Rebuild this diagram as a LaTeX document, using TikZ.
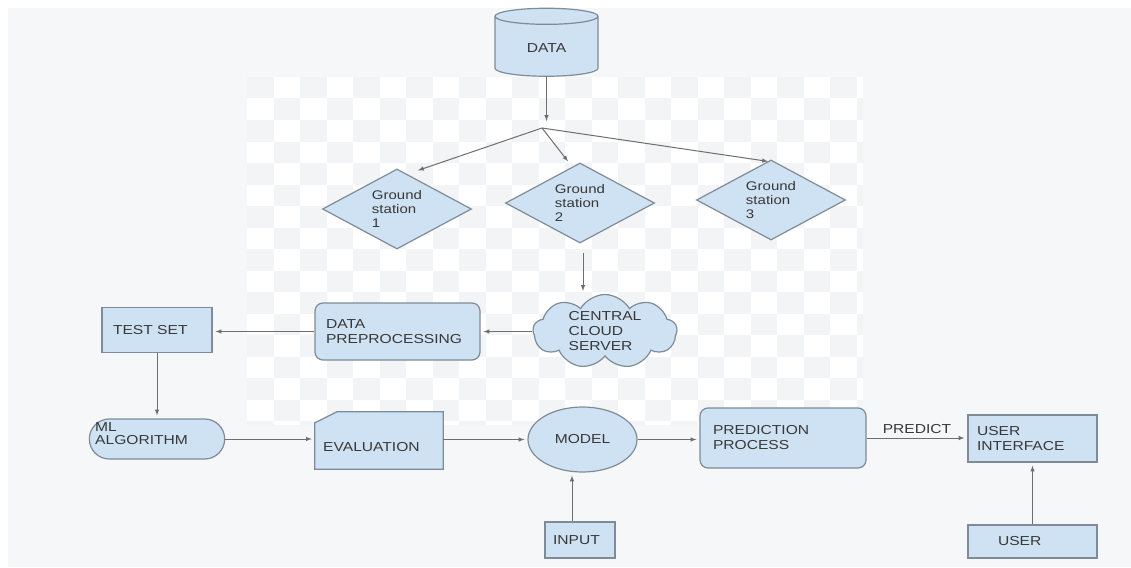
\documentclass[tikz,border=0pt]{standalone}
\usepackage{fontspec}
\setmainfont[FakeStretch=1.2]{Liberation Sans}
\usetikzlibrary{shapes.geometric,shapes.symbols,shapes.misc}

\definecolor{boxblue}{HTML}{CFE2F3}
\definecolor{boxline}{HTML}{7F8B96}
\definecolor{arrline}{HTML}{6E6E6E}
\definecolor{txtgray}{HTML}{383838}
\definecolor{panel}{HTML}{F6F7F9}
\definecolor{chkgray}{HTML}{F3F4F5}

\begin{document}
\begin{tikzpicture}[x=1pt,y=-1pt,
    font=\fontsize{13}{15}\selectfont,
    every node/.style={text=txtgray},
    blk/.style={draw=boxline, fill=boxblue, line width=1.2pt},
    box/.style={blk, rectangle, align=left, inner xsep=#1, inner ysep=0pt},
    gstation/.style={blk, diamond, aspect=1.9, inner sep=0pt, align=left,
      minimum width=149, minimum height=80, font=\fontsize{12.5}{14}\selectfont},
    arr/.style={-latex, draw=arrline, line width=1pt, shorten >=3pt}]

  % 背景
  \useasboundingbox (0,0) rectangle (1131,567);
  \fill[white] (0,0) rectangle (1131,567);
  \fill[panel] (8,8) rectangle (1131,567);
  \begin{scope}
    \clip (247,77) rectangle (863,425);
    \fill[white] (247,77) rectangle (863,425);
    \foreach \i in {0,...,23}
      \foreach \j in {0,...,16}{
        \pgfmathtruncatemacro\k{mod(\i+\j,2)}
        \ifnum\k=0
          \fill[chkgray] (247+26.5*\i,77+21.5*\j) rectangle ++(26.5,21.5);
        \fi}
  \end{scope}

  % 数据源和地面站
  \node[blk, cylinder, shape border rotate=90, aspect=0.35,
    minimum width=103, minimum height=68] (data) at (546.5,48) {DATA};
  \coordinate (split) at (542,128);
  \node[gstation] (gs1) at (397,209) {Ground\\station\\1};
  \node[gstation] (gs2) at (580,203) {Ground\\station\\2};
  \node[gstation] (gs3) at (771,200) {Ground\\station\\3};

  % 中间一行
  \node[blk, cloud, cloud puffs=9, cloud puff arc=120, aspect=2, align=left,
    minimum width=144, minimum height=67, inner sep=0pt] (cloud) at (605,331.5)
    {CENTRAL\\CLOUD\\SERVER};
  \node[box=11pt, rounded corners=8pt, text width=143, minimum height=57]
    (prep) at (397.5,331.5) {DATA\\PREPROCESSING};
  \node[box=11pt, text width=88, minimum height=45] (test) at (157,330) {TEST SET};

  % 下面一行
  \node[blk, rounded rectangle, minimum width=142, minimum height=40] (ml) at (157,439) {};
  \node[anchor=west, align=left, inner sep=0pt, font=\fontsize{13}{13}\selectfont]
    (mltxt) at (95,433.5) {ML\\ALGORITHM};
  \node[minimum width=128, minimum height=57, inner sep=0pt] (eval) at (379,440.5) {};
  \draw[blk] (eval.south west) -- ([yshift=-11pt]eval.north west)
    -- ([xshift=22pt]eval.north west) -- (eval.north east) -- (eval.south east) -- cycle;
  \node[anchor=west, inner sep=0pt] (evaltxt) at (323,447) {EVALUATION};
  \node[blk, ellipse, minimum width=109, minimum height=65, inner sep=0pt]
    (model) at (582.5,439.5) {MODEL};
  \node[box=13pt, rounded corners=8pt, text width=140, minimum height=60]
    (pred) at (783,438) {PREDICTION\\PROCESS};
  \node[box=9pt, text width=111, minimum height=47] (ui) at (1032.5,438.5) {USER\\INTERFACE};
  \node[box=8pt, text width=54, minimum height=36] (input) at (580,540) {INPUT};
  \node[box=30pt, text width=69, minimum height=33] (user) at (1032.5,541.5) {USER};

  % 箭头
  \draw[arr, shorten >=7pt] (data.south) -- (data.south |- split);
  \draw[arr, shorten >=0pt] (split) -- ([xshift=21pt,yshift=-2pt]gs1.north);
  \draw[arr, shorten >=0pt] (split) -- ([xshift=-12pt,yshift=1pt]gs2.north);
  \draw[arr, shorten >=0pt] (split) -- ([xshift=-3pt,yshift=-2pt]gs3.north);
  \draw[arr] ([xshift=3pt,yshift=-9pt]gs2.south) -- ([xshift=3pt]gs2.south |- cloud.north);
  \draw[arr] (cloud.west) -- (cloud.west -| prep.east);
  \draw[arr] (prep.west) -- (prep.west -| test.east);
  \draw[arr] (test.south) -- (ml.north);
  \draw[arr] (ml.east) -- (ml.east -| eval.west);
  \draw[arr] (eval.east |- model.west) -- (model.west);
  \draw[arr] (model.east) -- (model.east -| pred.west);
  \draw[arr] (pred.east) -- (pred.east -| ui.west) node[midway, above=1pt] {PREDICT};
  \draw[arr] ([xshift=-8pt]input.north) -- ([xshift=-8pt]input.north |- model.south);
  \draw[arr] (user.north) -- (ui.south);
\end{tikzpicture}
\end{document}
